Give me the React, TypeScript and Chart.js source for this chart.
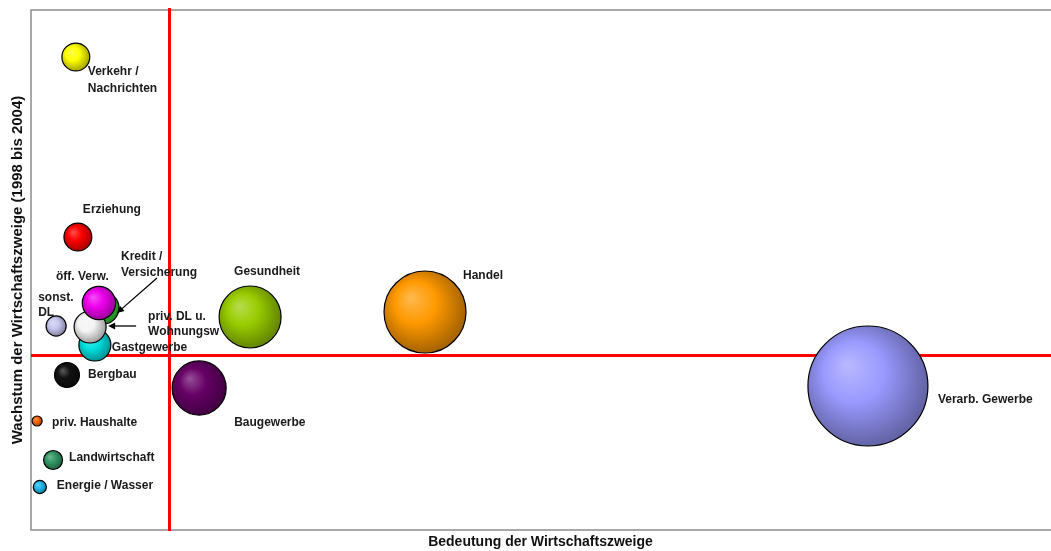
import React, { useEffect, useRef } from "react";
import { Chart, registerables } from "chart.js";

Chart.register(...registerables);

// ---- data (arbitrary units, no ticks shown) ----
const sectors = [
  "Verarb. Gewerbe",
  "Handel",
  "Gesundheit",
  "Baugewerbe",
  "Verkehr / Nachrichten",
  "Erziehung",
  "Kredit / Versicherung",
  "Gastgewerbe",
  "priv. DL u. Wohnungsw",
  "öff. Verw.",
  "sonst. DL",
  "Bergbau",
  "priv. Haushalte",
  "Landwirtschaft",
  "Energie / Wasser",
];
const labelLines = [
  ["Verarb. Gewerbe"],
  ["Handel"],
  ["Gesundheit"],
  ["Baugewerbe"],
  ["Verkehr /", "Nachrichten"],
  ["Erziehung"],
  ["Kredit /", "Versicherung"],
  ["Gastgewerbe"],
  ["priv. DL u.", "Wohnungsw"],
  ["öff. Verw."],
  ["sonst.", "DL"],
  ["Bergbau"],
  ["priv. Haushalte"],
  ["Landwirtschaft"],
  ["Energie / Wasser"],
];
const bedeutung = [24.64, 11.6, 6.45, 4.95, 1.32, 1.38, 2.12, 1.88, 1.74, 2.0, 0.74, 1.06, 0.18, 0.65, 0.26];
const wachstum = [-0.62, 0.86, 0.76, -0.66, 5.96, 2.36, 0.94, 0.2, 0.56, 1.04, 0.58, -0.4, -1.32, -2.1, -2.64];
const groesse = [100, 46.7, 26.7, 20.3, 5.4, 5.4, 7.1, 7.1, 7.1, 7.7, 2.8, 4.3, 0.7, 2.5, 1.2];
const meanBedeutung = 4.05;
const meanWachstum = 0;

const xTitle = "Bedeutung der Wirtschaftszweige";
const yTitle = "Wachstum der Wirtschaftszweige (1998 bis 2004)";

// ---- styles ----
const colors = [
  "#9999ff",
  "#ff9900",
  "#99cc00",
  "#660066",
  "#ffff00",
  "#ff0000",
  "#33cc33",
  "#00e0e0",
  "#f4f4f4",
  "#ee00ee",
  "#c8c8f0",
  "#111111",
  "#ff6600",
  "#339966",
  "#22bbee",
];
// label offsets relative to bubble centre (pixels): dx, dy, line height
const labelOffsets: [number, number, number][] = [
  [70, 14, 15],
  [38, -36, 15],
  [-16, -45, 15],
  [35, 35, 15],
  [12, 15, 17],
  [5, -27, 15],
  [18, -51, 16],
  [17, 3, 15],
  [58, -10, 15],
  [-43, -26, 15],
  [-18, -28, 15],
  [21, 0, 15],
  [15, 2, 15],
  [16, -2, 15],
  [17, -1, 15],
];
// arrows: [targetIndex, startDx, startDy, tipDx, tipDy]
const arrows: [number, number, number, number, number][] = [
  [6, 54, -30, 14, 5],
  [8, 46, -1, 18, -1],
];

const FONT = "'Liberation Sans', Arial, Helvetica, sans-serif";

function hexToRgb(h: string) {
  const v = h.replace("#", "");
  return [parseInt(v.slice(0, 2), 16), parseInt(v.slice(2, 4), 16), parseInt(v.slice(4, 6), 16)];
}
function mix(a: string, b: string, t: number) {
  const A = hexToRgb(a);
  const B = hexToRgb(b);
  const c = A.map((v, i) => Math.round(v + (B[i] - v) * t));
  return `rgb(${c[0]},${c[1]},${c[2]})`;
}

const bubbleData = sectors.map((s, i) => ({
  x: bedeutung[i],
  y: wachstum[i],
  r: 6 * Math.sqrt(groesse[i]),
}));

const quadrantPlugin = {
  id: "quadrant",
  beforeDatasetsDraw(chart: any) {
    const { ctx, chartArea } = chart;
    const xs = chart.scales.x;
    const ys = chart.scales.y;
    ctx.save();
    ctx.strokeStyle = "#ff0000";
    ctx.lineWidth = 3;
    const px = Math.round(xs.getPixelForValue(meanBedeutung)) + 0.5;
    const py = Math.round(ys.getPixelForValue(meanWachstum)) + 0.5;
    ctx.beginPath();
    ctx.moveTo(px, chartArea.top - 2);
    ctx.lineTo(px, chartArea.bottom + 1);
    ctx.moveTo(chartArea.left, py);
    ctx.lineTo(chartArea.right + 2, py);
    ctx.stroke();
    ctx.restore();
  },
  beforeDraw(chart: any) {
    const { ctx, chartArea } = chart;
    ctx.save();
    ctx.strokeStyle = "#8c8c8c";
    ctx.lineWidth = 1.5;
    ctx.strokeRect(chartArea.left, chartArea.top, chartArea.right - chartArea.left + 3, chartArea.bottom - chartArea.top);
    ctx.restore();
  },
  afterDatasetsDraw(chart: any) {
    const { ctx } = chart;
    const meta = chart.getDatasetMeta(0);
    ctx.save();
    ctx.font = `bold 12px ${FONT}`;
    ctx.fillStyle = "#1a1a1a";
    ctx.textAlign = "left";
    ctx.textBaseline = "middle";
    labelLines.forEach((lines, i) => {
      const el = meta.data[i];
      const [dx, dy, lh] = labelOffsets[i];
      lines.forEach((t, k) => ctx.fillText(t, el.x + dx, el.y + dy + k * lh));
    });
    ctx.strokeStyle = "#000";
    ctx.fillStyle = "#000";
    ctx.lineWidth = 1.3;
    arrows.forEach(([idx, sx, sy, tx, ty]) => {
      const el = meta.data[idx];
      const x1 = el.x + sx, y1 = el.y + sy, x2 = el.x + tx, y2 = el.y + ty;
      const a = Math.atan2(y2 - y1, x2 - x1);
      ctx.beginPath();
      ctx.moveTo(x1, y1);
      ctx.lineTo(x2 - 4 * Math.cos(a), y2 - 4 * Math.sin(a));
      ctx.stroke();
      ctx.beginPath();
      ctx.moveTo(x2, y2);
      ctx.lineTo(x2 - 7 * Math.cos(a) + 3.5 * Math.sin(a), y2 - 7 * Math.sin(a) - 3.5 * Math.cos(a));
      ctx.lineTo(x2 - 7 * Math.cos(a) - 3.5 * Math.sin(a), y2 - 7 * Math.sin(a) + 3.5 * Math.cos(a));
      ctx.closePath();
      ctx.fill();
    });
    ctx.restore();
  },
};

export default function App() {
  const ref = useRef<HTMLCanvasElement | null>(null);
  useEffect(() => {
    if (!ref.current) return;
    const chart = new Chart(ref.current, {
      type: "bubble",
      data: {
        datasets: [
          {
            label: "Wirtschaftszweige",
            data: bubbleData,
            borderColor: "#000000",
            borderWidth: 1.2,
            clip: false as any,
            backgroundColor: (c: any) => {
              const base = colors[c.dataIndex] || "#999999";
              if (c.type !== "data") return base;
              const ch = c.chart;
              const xs = ch.scales && ch.scales.x;
              const ys = ch.scales && ch.scales.y;
              if (!xs || !ys) return base;
              const raw = c.raw;
              const cx = xs.getPixelForValue(raw.x);
              const cy = ys.getPixelForValue(raw.y);
              const r = raw.r;
              if (!isFinite(cx) || !isFinite(cy) || !isFinite(r)) return base;
              const g = ch.ctx.createRadialGradient(cx - r * 0.35, cy - r * 0.35, r * 0.02, cx - r * 0.1, cy - r * 0.1, r * 1.1);
              g.addColorStop(0, mix(base, "#ffffff", 0.3));
              g.addColorStop(0.45, base);
              g.addColorStop(1, mix(base, "#000000", 0.35));
              return g;
            },
          } as any,
        ],
      },
      options: {
        responsive: false,
        animation: false,
        layout: { padding: { left: 0, top: 10, right: 1, bottom: 0 } },
        plugins: {
          legend: { display: false },
          tooltip: { enabled: false },
        },
        events: [],
        scales: {
          x: {
            type: "linear",
            min: 0,
            max: 30,
            grid: { display: false, drawTicks: false, tickLength: 0 },
            border: { display: false },
            ticks: { display: false },
            title: {
              display: true,
              text: xTitle,
              color: "#111",
              font: { family: FONT, size: 14, weight: "bold" },
              padding: { top: 4.2, bottom: 0 },
            },
          },
          y: {
            type: "linear",
            min: -3.5,
            max: 6.9,
            grid: { display: false, drawTicks: false, tickLength: 0 },
            border: { display: false },
            ticks: { display: false },
            title: {
              display: true,
              text: yTitle,
              color: "#111",
              font: { family: FONT, size: 15, weight: "bold" },
              padding: { top: 9, bottom: 4 },
            },
          },
        },
      },
      plugins: [quadrantPlugin],
    } as any);
    // the bubble controller reserves room for its largest radius; the reference keeps the full plot area
    const ctrl: any = chart.getDatasetMeta(0).controller;
    ctrl.getMaxOverflow = () => false;
    chart.update();
    return () => chart.destroy();
  }, []);
  return (
    <div style={{ position: "absolute", left: 0, top: 0, width: 1051, height: 551, background: "#fff" }}>
      <canvas ref={ref} width={1051} height={551} />
    </div>
  );
}
